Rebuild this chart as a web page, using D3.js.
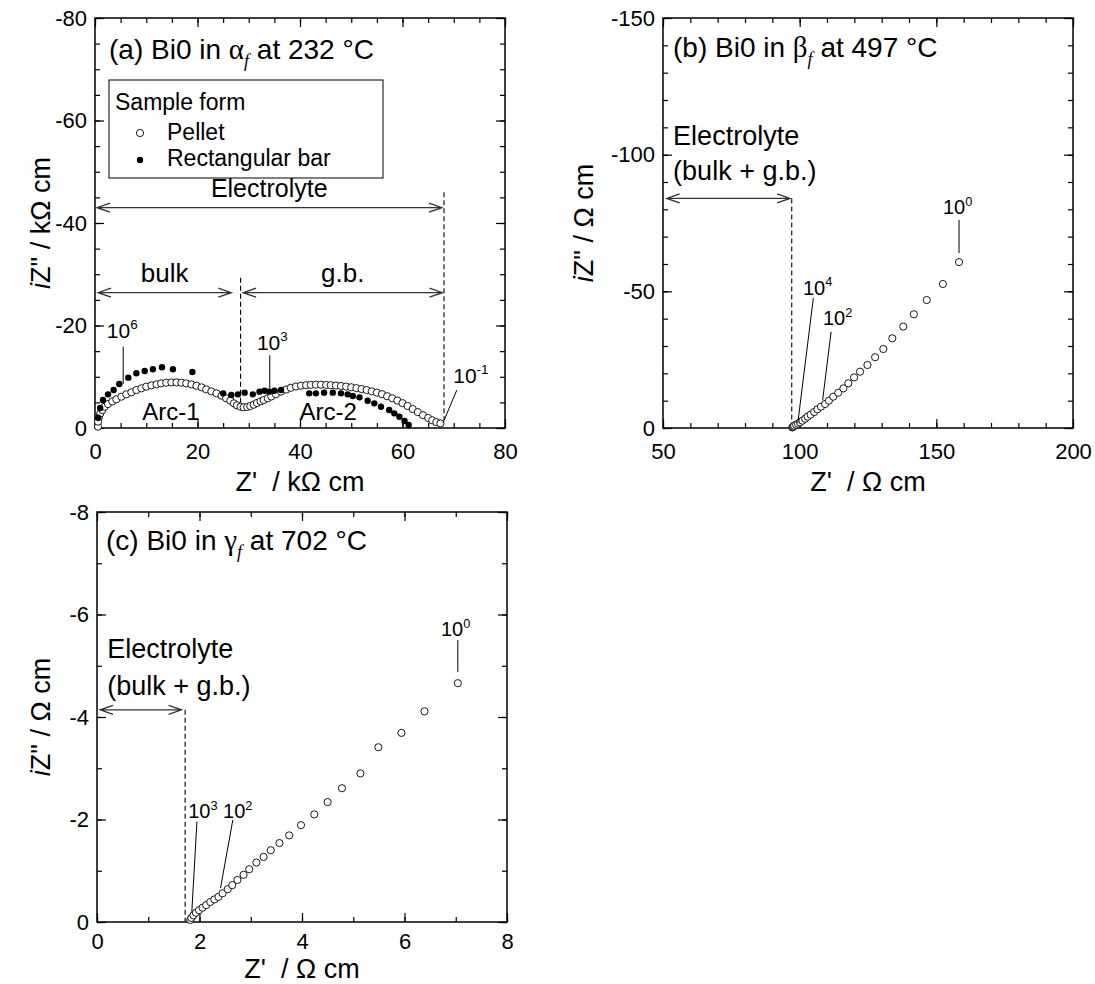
<!DOCTYPE html>
<html>
<head>
<meta charset="utf-8">
<script src="https://cdn.jsdelivr.net/npm/d3@7"></script>
<style>
body { margin: 0; background: #fff; }
svg text { font-family: "Liberation Sans", Arial, sans-serif; fill: #000; }
</style>
</head>
<body>
<div id="chart"></div>
<script>
// size of one plot box (px)
var W = 410, H = 410;
var FONT = "Liberation Sans, Arial, sans-serif";

// ---------- (a) Bi0 in alpha_f at 232 C, kOhm cm ----------
// pellet (open circles)
var pelletRe = [0.59, 0.6, 0.78, 1.04, 1.43, 1.89, 2.54, 3.38, 4.16, 5.14, 6.11, 7.09, 8.07, 9.04, 10.0, 11.0,
  12.0, 12.9, 13.9, 14.9, 15.9, 16.85, 17.8, 18.8, 19.8, 20.8, 21.7, 22.7, 23.7, 24.7, 25.6, 26.4, 27.1,
  27.7, 28.4, 29.0, 29.7, 30.3, 30.96, 31.6, 32.3, 32.9, 33.7, 34.4, 35.3, 36.3, 37.3, 38.2, 39.2, 40.2,
  41.2, 42.1, 43.1, 44.1, 45.1, 46.0, 47.0, 48.0, 49.0, 50.0, 51.0, 52.0, 53.0, 54.0, 55.0, 56.0, 57.0,
  58.0, 59.0, 60.0, 61.0, 62.0, 63.0, 64.0, 65.0, 65.8, 66.6, 67.4];
var pelletIm = [-0.26, -1.24, -2.21, -2.86, -3.51, -4.16, -4.68, -5.2, -5.59, -6.11, -6.57, -6.96, -7.41, -7.74, -8.06, -8.32,
  -8.51, -8.71, -8.84, -8.9, -8.9, -8.84, -8.71, -8.51, -8.25, -7.93, -7.54, -7.15, -6.76, -6.31, -5.79, -5.33, -4.81,
  -4.42, -4.16, -4.03, -4.1, -4.29, -4.55, -4.88, -5.2, -5.46, -5.79, -6.15, -6.6, -7.1, -7.5, -7.85, -8.1, -8.25,
  -8.35, -8.42, -8.45, -8.45, -8.4, -8.35, -8.28, -8.2, -8.08, -7.95, -7.78, -7.6, -7.4, -7.15, -6.9, -6.6, -6.2,
  -5.8, -5.35, -4.85, -4.3, -3.7, -3.1, -2.5, -1.95, -1.5, -1.15, -0.9];
// rectangular bar (filled dots)
var barRe = [0.6, 1.0, 1.56, 2.54, 3.64, 4.74, 6.5, 8.07, 9.69, 11.3, 13.07, 15.2, 19.0, 25.0, 26.6, 27.9, 29.2,
  30.8, 32.1, 33.1, 34.0, 35.0, 36.3, 41.8, 43.1, 44.7, 46.4, 48.0, 49.3, 50.3, 51.6, 53.2, 54.5, 55.8, 57.4,
  58.4, 59.4, 60.4, 61.2];
var barIm = [-2.0, -3.9, -5.46, -6.57, -7.42, -8.59, -9.82, -10.67, -11.12, -11.45, -11.84, -11.45, -10.93, -6.76, -6.44, -6.57, -6.9,
  -6.57, -7.09, -7.28, -7.09, -7.28, -7.41, -6.76, -6.76, -6.9, -6.9, -6.76, -6.57, -6.24, -5.98, -5.33, -4.81, -4.16, -3.51,
  -2.86, -2.2, -1.37, -0.59];
var aXTicks = [0, 20, 40, 60, 80];
var aYTicks = [0, -20, -40, -60, -80];

// ---------- (b) Bi0 in beta_f at 497 C, Ohm cm ----------
var betaRe = [97.3, 97.5, 97.7, 98.0, 98.7, 99.4, 100.1, 101.0, 102.0, 102.9, 104.0, 105.3, 106.5, 107.8, 109.3,
  110.7, 112.3, 114.1, 116.0, 117.8, 119.9, 122.1, 124.8, 127.6, 130.6, 133.9, 137.9, 141.8, 146.5, 152.4, 158.3];
var betaIm = [-0.2, -0.35, -0.49, -0.85, -1.22, -1.58, -2.07, -2.68, -3.4, -4.15, -4.88, -5.85, -6.83, -7.8, -8.78,
  -10.0, -11.45, -12.9, -14.5, -16.35, -18.5, -20.6, -23.05, -25.9, -28.9, -32.8, -37.1, -41.6, -46.8, -52.7, -60.7];
var bXTicks = [50, 100, 150, 200];
var bYTicks = [0, -50, -100, -150];

// ---------- (c) Bi0 in gamma_f at 702 C, Ohm cm ----------
var gammaRe = [1.82, 1.84, 1.88, 1.93, 1.99, 2.06, 2.13, 2.21, 2.29, 2.37, 2.45, 2.55, 2.64, 2.74, 2.86, 2.97,
  3.11, 3.25, 3.39, 3.56, 3.75, 3.98, 4.24, 4.5, 4.78, 5.14, 5.49, 5.94, 6.39, 7.04];
var gammaIm = [-0.04, -0.08, -0.13, -0.18, -0.23, -0.28, -0.33, -0.39, -0.44, -0.49, -0.56, -0.64, -0.72, -0.82, -0.92, -1.03,
  -1.16, -1.27, -1.4, -1.54, -1.69, -1.89, -2.1, -2.34, -2.61, -2.9, -3.41, -3.69, -4.11, -4.66];
var cXTicks = [0, 2, 4, 6, 8];
var cYTicks = [0, -2, -4, -6, -8];

var svg = d3.select("#chart").append("svg")
    .attr("width", 1095)
    .attr("height", 984);

function makePanel(left, top, xDom, yDom) {
    var g = svg.append("g").attr("transform", "translate(" + left + "," + top + ")");
    var x = d3.scaleLinear().domain(xDom).range([0, W]);
    var y = d3.scaleLinear().domain(yDom).range([H, 0]);
    return { g: g, x: x, y: y, left: left, top: top };
}

function axisGroup(p, axis, ty, tx) {
    var a = p.g.append("g")
        .attr("transform", "translate(" + (tx || 0) + "," + (ty || 0) + ")")
        .call(axis);
    a.select(".domain").remove();
    a.selectAll("line").attr("stroke", "#000").attr("stroke-width", 1.2);
    a.attr("font-size", 22).attr("font-family", FONT);
    return a;
}

// frame with inward ticks on all four sides
function drawFrame(p, xMajor, xStep, yMajor, yStep, pad) {
    var xd = p.x.domain(), yd = p.y.domain();
    var xMinor = d3.range(xd[0], xd[1] + 1e-9, xStep);
    var yMinor = d3.range(yd[0], yd[1] - 1e-9, -yStep);
    var fmt = function (d) { return String(d); };

    axisGroup(p, d3.axisBottom(p.x).tickValues(xMinor).tickSize(-5).tickFormat(""), H);
    axisGroup(p, d3.axisBottom(p.x).tickValues(xMajor).tickSize(-9).tickPadding(pad).tickSizeOuter(0).tickFormat(fmt), H);
    axisGroup(p, d3.axisTop(p.x).tickValues(xMinor).tickSize(-5).tickFormat(""), 0);
    axisGroup(p, d3.axisTop(p.x).tickValues(xMajor).tickSize(-9).tickFormat(""), 0);
    axisGroup(p, d3.axisLeft(p.y).tickValues(yMinor).tickSize(-5).tickFormat(""));
    axisGroup(p, d3.axisLeft(p.y).tickValues(yMajor).tickSize(-9).tickPadding(8).tickFormat(fmt));
    axisGroup(p, d3.axisRight(p.y).tickValues(yMinor).tickSize(-5).tickFormat(""), 0, W);
    axisGroup(p, d3.axisRight(p.y).tickValues(yMajor).tickSize(-9).tickFormat(""), 0, W);

    p.g.append("rect")
        .attr("width", W)
        .attr("height", H)
        .attr("fill", "none")
        .attr("stroke", "#000")
        .attr("stroke-width", 1.5);
}

function xTitle(p, unit, dy) {
    svg.append("text")
        .attr("x", p.left + W / 2)
        .attr("y", p.top + H + dy)
        .attr("text-anchor", "middle")
        .attr("font-size", 27)
        .style("white-space", "pre")
        .text("Z'  / " + unit);
}

function yTitle(p, cx, unit) {
    var t = svg.append("text")
        .attr("transform", "translate(" + cx + "," + (p.top + H / 2) + ") rotate(-90)")
        .attr("text-anchor", "middle")
        .attr("font-size", 27);
    t.append("tspan").attr("font-style", "italic").text("i");
    t.append("tspan").text('Z" / ' + unit);
}

// "(a) Bi0 in alpha_f at 232 C"
function panelTitle(p, tag, greek, temp, px, py) {
    var t = p.g.append("text")
        .attr("x", px)
        .attr("y", py)
        .attr("font-size", 28);
    t.append("tspan").text("(" + tag + ") Bi0 in ");
    t.append("tspan").attr("font-family", "Liberation Serif, serif").attr("font-size", 29).text(greek);
    t.append("tspan").attr("font-family", "Liberation Serif, serif")
        .attr("font-style", "italic").attr("font-size", 18).attr("dy", 8).text("f");
    t.append("tspan").attr("dy", -8).text(" at " + temp + " \u00b0C");
}

function power(p, xv, yv, base, exp, size) {
    var t = p.g.append("text")
        .attr("x", p.x(xv))
        .attr("y", p.y(yv))
        .attr("font-size", size);
    t.append("tspan").text(base);
    t.append("tspan").attr("dy", -size * 0.42).attr("font-size", size * 0.64).text(exp);
}

function leader(p, x1, y1, x2, y2) {
    p.g.append("line")
        .attr("x1", p.x(x1)).attr("y1", p.y(y1))
        .attr("x2", p.x(x2)).attr("y2", p.y(y2))
        .attr("stroke", "#000")
        .attr("stroke-width", 1);
}

function dashed(p, xv, y1, y2) {
    p.g.append("line")
        .attr("x1", p.x(xv)).attr("x2", p.x(xv))
        .attr("y1", p.y(y1)).attr("y2", p.y(y2))
        .attr("stroke", "#000")
        .attr("stroke-width", 1.1)
        .attr("stroke-dasharray", "5,3");
}

// double headed arrow with open heads
function arrow(p, x1, x2, yv) {
    var a = p.x(x1), b = p.x(x2), y = p.y(yv), L = 13, h = 4.5;
    p.g.append("path")
        .attr("d", "M" + a + "," + y + "H" + b +
            "M" + (a + L) + "," + (y - h) + "L" + a + "," + y + "L" + (a + L) + "," + (y + h) +
            "M" + (b - L) + "," + (y - h) + "L" + b + "," + y + "L" + (b - L) + "," + (y + h))
        .attr("fill", "none")
        .attr("stroke", "#333")
        .attr("stroke-width", 1.3);
}

function text(p, xv, yv, str, size, anchor) {
    p.g.append("text")
        .attr("x", p.x(xv))
        .attr("y", p.y(yv))
        .attr("font-size", size)
        .attr("text-anchor", anchor || "start")
        .text(str);
}

function openCircles(p, xs, ys) {
    p.g.append("g").selectAll("circle")
        .data(xs.map(function (d, i) { return [d, ys[i]]; }))
        .enter()
        .append("circle")
        .attr("cx", function (d) { return p.x(d[0]); })
        .attr("cy", function (d) { return p.y(d[1]); })
        .attr("r", 3.6)
        .attr("fill", "#fff")
        .attr("stroke", "#000")
        .attr("stroke-width", 0.9);
}

function dots(p, xs, ys) {
    p.g.append("g").selectAll("circle")
        .data(xs.map(function (d, i) { return [d, ys[i]]; }))
        .enter()
        .append("circle")
        .attr("cx", function (d) { return p.x(d[0]); })
        .attr("cy", function (d) { return p.y(d[1]); })
        .attr("r", 3.2)
        .attr("fill", "#000");
}

// ================= panel (a) =================
var pa = makePanel(95, 18, [0, 80], [0, -80]);
drawFrame(pa, aXTicks, 5, aYTicks, 5, 15);
xTitle(pa, "k\u03a9 cm", 63);
yTitle(pa, 50, "k\u03a9 cm");
panelTitle(pa, "a", "\u03b1", 232, 14, 41);

// legend
var lg = pa.g.append("g").attr("transform", "translate(14,62)");
lg.append("rect").attr("width", 274).attr("height", 98)
    .attr("fill", "#fff").attr("stroke", "#000").attr("stroke-width", 1);
lg.append("text").attr("x", 6).attr("y", 30).attr("font-size", 23).text("Sample form");
lg.append("circle").attr("cx", 31).attr("cy", 53).attr("r", 3.6)
    .attr("fill", "#fff").attr("stroke", "#000").attr("stroke-width", 0.9);
lg.append("text").attr("x", 58).attr("y", 60).attr("font-size", 23).text("Pellet");
lg.append("circle").attr("cx", 31).attr("cy", 80).attr("r", 3.2).attr("fill", "#000");
lg.append("text").attr("x", 58).attr("y", 86).attr("font-size", 23).text("Rectangular bar");

arrow(pa, 0.4, 67.7, -43.0);
text(pa, 34, -45.1, "Electrolyte", 25, "middle");
arrow(pa, 0.6, 26.6, -26.4);
arrow(pa, 28.9, 67.8, -26.4);
text(pa, 13.6, -28.5, "bulk", 26, "middle");
text(pa, 48.35, -28.5, "g.b.", 26, "middle");
dashed(pa, 28.4, -29.3, -4.2);
dashed(pa, 68.1, -46.0, -1.6);
text(pa, 14.8, -1.56, "Arc-1", 24, "middle");
text(pa, 45.5, -1.56, "Arc-2", 24, "middle");

openCircles(pa, pelletRe, pelletIm);
dots(pa, barRe, barIm);

power(pa, 2.3, -17.6, "10", "6", 21);
leader(pa, 5.5, -15.9, 5.5, -8.6);
power(pa, 31.6, -15.2, "10", "3", 21);
leader(pa, 34.1, -14.2, 34.1, -7.4);
power(pa, 69.9, -8.8, "10", "-1", 21);
leader(pa, 67.9, -1.0, 70.6, -7.4);

// ================= panel (b) =================
var pb = makePanel(663, 18, [50, 200], [0, -150]);
drawFrame(pb, bXTicks, 10, bYTicks, 10, 15);
xTitle(pb, "\u03a9 cm", 63);
yTitle(pb, 593, "\u03a9 cm");
panelTitle(pb, "b", "\u03b2", 497, 10, 39);

text(pb, 53.7, -103.5, "Electrolyte", 27);
text(pb, 53.7, -90.7, "(bulk + g.b.)", 27);
arrow(pb, 51.35, 96.5, -84.0);
dashed(pb, 97.1, -84.0, 0);

openCircles(pb, betaRe, betaIm);

power(pb, 101.2, -48.7, "10", "4", 20);
leader(pb, 105.0, -47.5, 99.3, -1.7);
power(pb, 108.5, -37.7, "10", "2", 20);
leader(pb, 111.5, -35.2, 108.4, -10.2);
power(pb, 152.4, -78.3, "10", "0", 20);
leader(pb, 158.3, -76.1, 158.3, -64.0);

// ================= panel (c) =================
var pc = makePanel(97, 512, [0, 8], [0, -8]);
drawFrame(pc, cXTicks, 1, cYTicks, 1, 11);
xTitle(pc, "\u03a9 cm", 56);
yTitle(pc, 50, "\u03a9 cm");
panelTitle(pc, "c", "\u03b3", 702, 9, 38);

text(pc, 0.2, -5.15, "Electrolyte", 27);
text(pc, 0.2, -4.43, "(bulk + g.b.)", 27);
arrow(pc, 0.06, 1.65, -4.14);
dashed(pc, 1.72, -4.14, 0);

openCircles(pc, gammaRe, gammaIm);

power(pc, 1.78, -2.02, "10", "3", 20);
leader(pc, 1.95, -1.96, 1.85, -0.2);
power(pc, 2.46, -2.03, "10", "2", 20);
leader(pc, 2.65, -1.99, 2.41, -0.66);
power(pc, 6.71, -5.58, "10", "0", 20);
leader(pc, 7.04, -5.5, 7.04, -4.88);
</script>
</body>
</html>
